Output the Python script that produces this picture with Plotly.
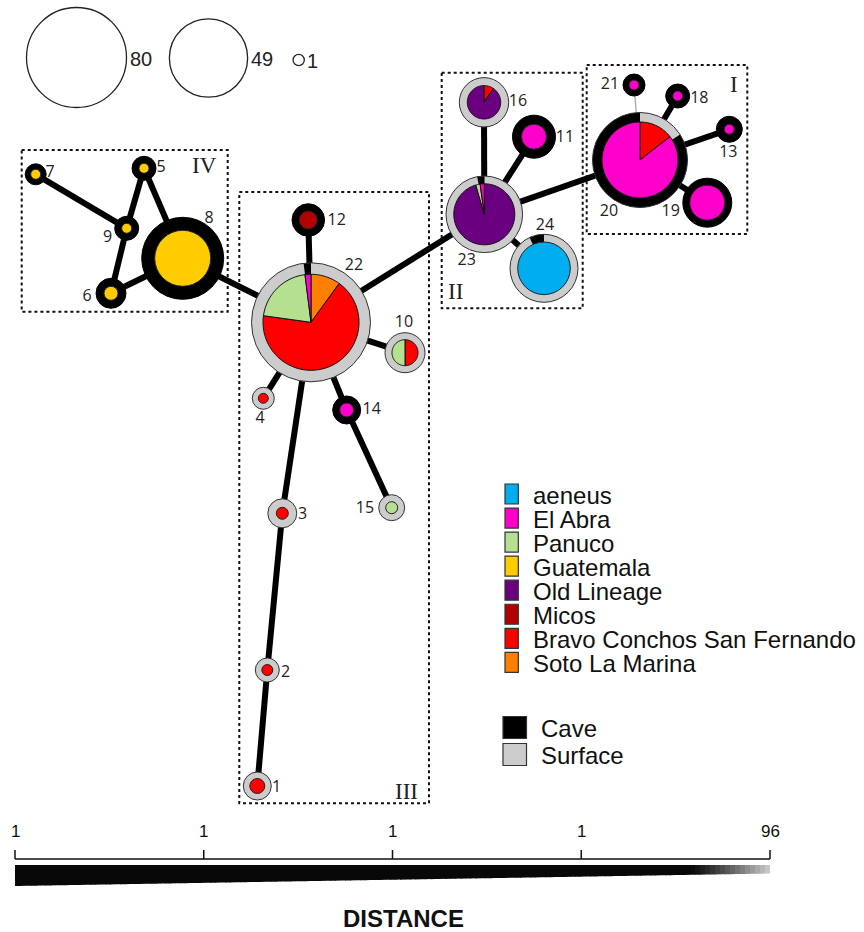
import math
import plotly.graph_objects as go

# ---------------- data ----------------
GROUPS = ["aeneus", "El Abra", "Panuco", "Guatemala", "Old Lineage", "Micos",
          "Bravo Conchos San Fernando", "Soto La Marina"]
GROUP_COLORS = ["#00aeef", "#ff00cc", "#b5e08f", "#ffcc00", "#6a0080", "#b30000",
                "#ff0000", "#ff8000"]
HABITATS = ["Cave", "Surface"]
HABITAT_COLORS = ["#000000", "#cccccc"]

NODE_ID = [1, 2, 3, 4, 5, 6, 7, 8, 9, 10, 11, 12, 13, 14, 15, 16, 18, 19, 20, 21, 22, 23, 24]
# fraction of the outer ring that is Surface (rest is Cave), clockwise from top
NODE_SURFACE = [1, 1, 1, 1, 0, 0, 0, 0, 0, 1, 0, 0, 0, 0, 1, 1, 0, 0, 0.16, 0, 0.98, 0.97, 0.93]
# pie composition, clockwise from top
NODE_PIE = [
    [("Bravo Conchos San Fernando", 1.0)],
    [("Bravo Conchos San Fernando", 1.0)],
    [("Bravo Conchos San Fernando", 1.0)],
    [("Bravo Conchos San Fernando", 1.0)],
    [("Guatemala", 1.0)],
    [("Guatemala", 1.0)],
    [("Guatemala", 1.0)],
    [("Guatemala", 1.0)],
    [("Guatemala", 1.0)],
    [("Bravo Conchos San Fernando", 0.5), ("Panuco", 0.5)],
    [("El Abra", 1.0)],
    [("Micos", 1.0)],
    [("El Abra", 1.0)],
    [("El Abra", 1.0)],
    [("Panuco", 1.0)],
    [("Bravo Conchos San Fernando", 0.095), ("Old Lineage", 0.905)],
    [("El Abra", 1.0)],
    [("El Abra", 1.0)],
    [("Bravo Conchos San Fernando", 0.145), ("El Abra", 0.855)],
    [("El Abra", 1.0)],
    [("Soto La Marina", 0.10), ("Bravo Conchos San Fernando", 0.672),
     ("Panuco", 0.208), ("El Abra", 0.02)],
    [("Old Lineage", 0.955), ("Panuco", 0.023), ("El Abra", 0.022)],
    [("aeneus", 1.0)],
]
EDGES = [(7, 9), (9, 5), (5, 8), (9, 6), (6, 8), (8, 22), (22, 12), (22, 10), (22, 4),
         (22, 3), (3, 2), (2, 1), (22, 14), (14, 15), (22, 23), (23, 16), (23, 11),
         (23, 24), (23, 20), (20, 18), (20, 13), (20, 19)]
WEAK_EDGES = [(20, 21)]
CLUSTERS = ["IV", "III", "II", "I"]
SIZE_LEGEND_COUNTS = [80, 49, 1]
DIST_TICK_LABELS = ["1", "1", "1", "1", "96"]

# ---------------- layout (network drawing coordinates) ----------------
NODE_X = [257.3, 267.3, 282.3, 263.3, 144, 111, 35.7, 182.7, 126.7, 405, 534, 308.3, 729.3,
          346.7, 391.7, 484, 677.7, 707.3, 640, 634, 311, 484.3, 544]
NODE_Y = [786, 670, 513.3, 398.3, 168.3, 293.3, 174.3, 258.3, 228.3, 352.7, 136.7, 220,
          129.3, 410, 507.7, 102.3, 96, 202.7, 160, 85, 322.3, 214.3, 268.3]
NODE_R_OUT = [14, 12, 14.5, 11, 12, 15, 10.5, 41, 12, 20, 21.5, 16.3, 13, 14, 13, 24.7, 12,
              24.5, 47.5, 11, 59.5, 38.3, 34]
NODE_R_IN = [7.5, 5.5, 6, 5, 5, 7, 5, 28, 5, 13, 12.5, 9, 5, 7, 6, 16.7, 5, 17.5, 38, 5,
             48, 30.5, 26.3]
LABEL_X = [276.7, 285.7, 302.7, 260, 161, 87, 50, 209, 107.7, 404, 565, 336.7, 728.3,
           371.7, 365, 518, 699.3, 670.7, 609, 610, 354, 466.7, 545]
LABEL_Y = [788.3, 672.7, 515, 419, 168, 296.7, 172.7, 219.3, 237.7, 322.7, 138.3, 220.7,
           153.3, 410, 509, 101.7, 99.3, 211.7, 212.3, 85, 266, 261, 225.7]
BOX_X0 = [21.7, 239.3, 441.7, 586.7]
BOX_X1 = [227.7, 429, 582.7, 747.3]
BOX_Y0 = [150, 192, 72.7, 65]
BOX_Y1 = [311.7, 803.3, 308.3, 234]
BOX_LABEL_X = [204, 406, 455, 734]
BOX_LABEL_Y = [165, 791.7, 291.7, 84]

W, H = 864, 932
shapes = []
annotations = []


def pt(cx, cy, r, a):
    t = math.radians(a)
    return cx + r * math.sin(t), cy - r * math.cos(t)


def wedge(cx, cy, r, a0, a1, fill, lw=0, lc="#000000"):
    full = (a1 - a0) >= 359.99
    n = max(8, int(abs(a1 - a0) / 3) + 2)
    pts = [pt(cx, cy, r, a0 + (a1 - a0) * i / n) for i in range(n + 1)]
    if full:
        p = "M " + " L ".join(f"{x:.2f},{y:.2f}" for x, y in pts) + " Z"
    else:
        p = f"M {cx:.2f},{cy:.2f} L " + " L ".join(f"{x:.2f},{y:.2f}" for x, y in pts) + " Z"
    shapes.append(dict(type="path", path=p, xref="x", yref="y", fillcolor=fill,
                       line=dict(width=lw, color=lc), layer="above"))


def circle(cx, cy, r, fill, lw=1, lc="#222222"):
    shapes.append(dict(type="circle", xref="x", yref="y", x0=cx - r, x1=cx + r,
                       y0=cy - r, y1=cy + r, fillcolor=fill,
                       line=dict(width=lw, color=lc), layer="above"))


idx = {n: i for i, n in enumerate(NODE_ID)}
gcol = dict(zip(GROUPS, GROUP_COLORS))

# edges
for a, b in EDGES:
    i, j = idx[a], idx[b]
    shapes.append(dict(type="line", xref="x", yref="y", x0=NODE_X[i], y0=NODE_Y[i],
                       x1=NODE_X[j], y1=NODE_Y[j], line=dict(color="#000000", width=6),
                       layer="above"))
for a, b in WEAK_EDGES:
    i, j = idx[a], idx[b]
    shapes.append(dict(type="line", xref="x", yref="y", x0=NODE_X[i], y0=NODE_Y[i],
                       x1=NODE_X[j], y1=NODE_Y[j], line=dict(color="#b0b0b0", width=1.5),
                       layer="above"))

# nodes
for k, nid in enumerate(NODE_ID):
    cx, cy, R, r = NODE_X[k], NODE_Y[k], NODE_R_OUT[k], NODE_R_IN[k]
    s = NODE_SURFACE[k]
    if s >= 1:
        circle(cx, cy, R, HABITAT_COLORS[1], 1, "#333333")
    elif s <= 0:
        circle(cx, cy, R, HABITAT_COLORS[0], 1, "#000000")
    else:
        wedge(cx, cy, R, 0, 360 * s, HABITAT_COLORS[1])
        wedge(cx, cy, R, 360 * s, 360, HABITAT_COLORS[0])
        circle(cx, cy, R, "rgba(0,0,0,0)", 1, "#333333")
    pie = NODE_PIE[k]
    if len(pie) == 1:
        circle(cx, cy, r, gcol[pie[0][0]], 1, "#222222")
    else:
        a = 0.0
        for g, f in pie:
            wedge(cx, cy, r, a, a + 360 * f, gcol[g], 1, "#111111")
            a += 360 * f

# cluster boxes
for c, name in enumerate(CLUSTERS):
    shapes.append(dict(type="rect", xref="x", yref="y", x0=BOX_X0[c], x1=BOX_X1[c],
                       y0=BOX_Y0[c], y1=BOX_Y1[c],
                       line=dict(color="#111111", width=2, dash="dot"), layer="below"))
    annotations.append(dict(x=BOX_LABEL_X[c], y=BOX_LABEL_Y[c], text=name, showarrow=False,
                            xref="x", yref="y",
                            font=dict(family="Liberation Serif", size=23, color="#222222")))

# size legend
SIZE_X = [76.5, 208.5, 298.7]
SIZE_Y = [57.5, 58, 60]
for n, x, y in zip(SIZE_LEGEND_COUNTS, SIZE_X, SIZE_Y):
    rr = 50 * math.sqrt(n / 80)
    circle(x, y, rr, "rgba(0,0,0,0)", 1.3, "#222222")
    annotations.append(dict(x=x + rr + 1, y=y + 1, text=str(n), showarrow=False,
                            xanchor="left", xref="x", yref="y",
                            font=dict(family="Liberation Sans", size=20, color="#222222")))

# colour legend
for i, (g, col) in enumerate(zip(GROUPS, GROUP_COLORS)):
    yc = 494 + 24.05 * i
    shapes.append(dict(type="rect", xref="x", yref="y", x0=505, x1=518.3, y0=yc - 10,
                       y1=yc + 10, fillcolor=col, line=dict(color="#333333", width=1.2)))
    annotations.append(dict(x=531, y=yc + 1, text=g, showarrow=False, xanchor="left",
                            xref="x", yref="y",
                            font=dict(family="Liberation Sans", size=24, color="#111111")))
for i, (hname, col) in enumerate(zip(HABITATS, HABITAT_COLORS)):
    yc = 727.5 + 27 * i
    shapes.append(dict(type="rect", xref="x", yref="y", x0=503, x1=526.5, y0=yc - 11,
                       y1=yc + 11, fillcolor=col, line=dict(color="#333333", width=1.2)))
    annotations.append(dict(x=539, y=yc + 1, text=hname, showarrow=False, xanchor="left",
                            xref="x", yref="y",
                            font=dict(family="Liberation Sans", size=24, color="#111111")))

# node labels
node_text = go.Scatter(x=LABEL_X, y=LABEL_Y, mode="text", text=[str(n) for n in NODE_ID],
                       textfont=dict(family="Open Sans", size=16, color="#222222"),
                       hoverinfo="skip", showlegend=False)

# distance scale bar
BX0, BX1 = 15, 770
nt = len(DIST_TICK_LABELS)
shapes.append(dict(type="line", xref="x", yref="y", x0=BX0, x1=BX1, y0=859, y1=859,
                   line=dict(color="#111111", width=1.5)))
for i, lab in enumerate(DIST_TICK_LABELS):
    tx = BX0 + (BX1 - BX0) * i / (nt - 1)
    shapes.append(dict(type="line", xref="x", yref="y", x0=tx, x1=tx, y0=850, y1=859,
                       line=dict(color="#111111", width=1.5)))
    annotations.append(dict(x=tx, y=831, text=lab, showarrow=False, xref="x", yref="y",
                            font=dict(family="Liberation Sans", size=17, color="#111111")))
nseg = 151
for i in range(nseg):
    xa = BX0 + (BX1 - BX0) * i / nseg
    xb = BX0 + (BX1 - BX0) * (i + 1) / nseg + 0.6
    xm = (xa + xb) / 2
    yb_a = 886 - 12.5 * (xa - BX0) / (BX1 - BX0)
    yb_b = 886 - 12.5 * (min(xb, BX1) - BX0) / (BX1 - BX0)
    if xm < 690:
        g = 8
    else:
        g = int(8 + 197 * min(1, (xm - 690) / 80) ** 1.2)
    xb = min(xb, BX1)
    shapes.append(dict(type="path", xref="x", yref="y",
                       path=f"M {xa:.2f},865 L {xb:.2f},865 L {xb:.2f},{yb_b:.2f} L {xa:.2f},{yb_a:.2f} Z",
                       fillcolor=f"rgb({g},{g},{g})", line=dict(width=0)))
annotations.append(dict(x=403, y=918, text="<b>DISTANCE</b>", showarrow=False, xref="x",
                        yref="y", font=dict(family="Liberation Sans", size=24,
                                            color="#111111")))

fig = go.Figure(node_text)
fig.update_layout(width=W, height=H, margin=dict(l=0, r=0, t=0, b=0),
                  paper_bgcolor="white", plot_bgcolor="white", shapes=shapes,
                  annotations=annotations, showlegend=False, hovermode=False)
fig.update_xaxes(range=[0, W], visible=False, fixedrange=True)
fig.update_yaxes(range=[H, 0], visible=False, fixedrange=True)
fig.write_html("out.html", config={"displayModeBar": False},
               post_script="document.body.style.margin='0';document.body.style.overflow='hidden';")
